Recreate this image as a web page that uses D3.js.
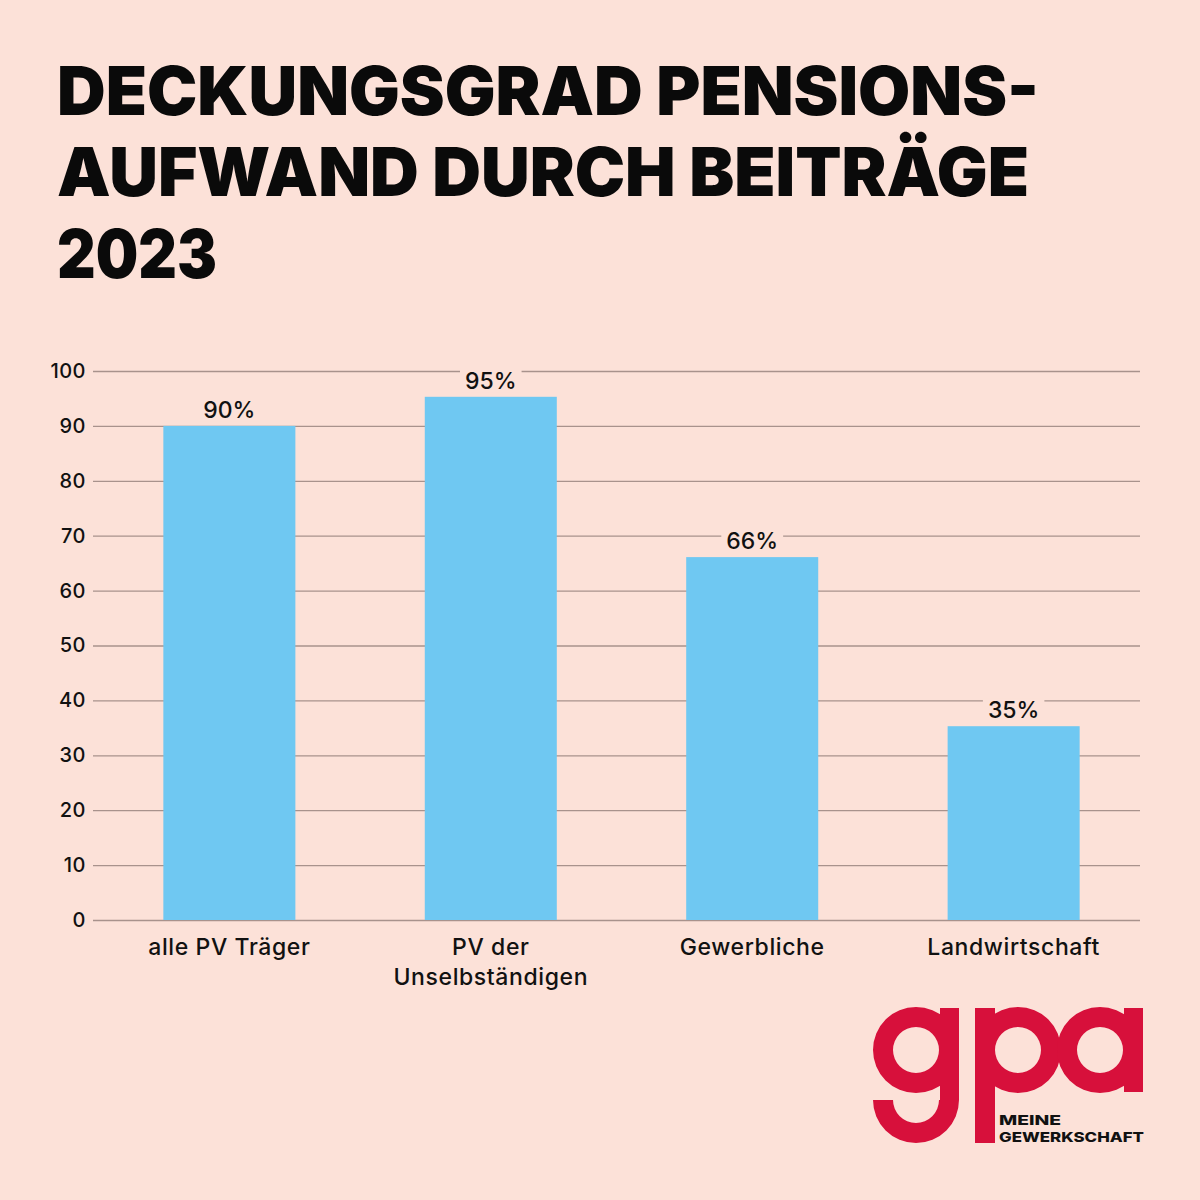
<!DOCTYPE html>
<html><head><meta charset="utf-8">
<script src="https://cdn.jsdelivr.net/npm/d3@7"></script>
<style>
html,body{margin:0;padding:0;background:#fce1d8;}
svg{display:block;}
</style></head>
<body>
<svg id="c" width="1200" height="1200"></svg>
<script>
const titleLines = ["DECKUNGSGRAD PENSIONS-", "AUFWAND DURCH BEITRÄGE", "2023"];
const categories = [["alle PV Träger"], ["PV der", "Unselbständigen"], ["Gewerbliche"], ["Landwirtschaft"]];
const values = [90, 95.3, 66.1, 35.3];
const valueLabels = ["90%", "95%", "66%", "35%"];
const yTicks = [0,10,20,30,40,50,60,70,80,90,100];

const BG = "#fce1d8", BAR = "#6fc8f2", GRID = "#a8928c", RED = "#d7103b";
const svg = d3.select("#c");
svg.append("rect").attr("width",1200).attr("height",1200).attr("fill",BG);

// Title
const tg = svg.append("g");
const titleBase = [115, 196, 278];
const titleWidths = [982, 972, 160];
titleLines.forEach((t,i)=>{
  const el = tg.append("text").attr("x",57).attr("y",titleBase[i])
    .attr("font-family","Inter, 'DejaVu Sans', sans-serif").attr("font-weight",900)
    .attr("font-size",68).attr("fill","#0a0a0a").text(t);
  el.attr("textLength", titleWidths[i]).attr("lengthAdjust","spacingAndGlyphs");
});

const y = d3.scaleLinear().domain([0,100]).range([920,371]);
const x = d3.scaleBand().domain(d3.range(categories.length)).range([98,1145]).paddingInner(0.495).paddingOuter(0.25);

// gridlines
const yAxis = d3.axisLeft(y).tickValues(yTicks).tickSize(-(1140-93)).tickPadding(7);
const ga = svg.append("g").attr("transform","translate(93,0)").call(yAxis);
ga.select(".domain").remove();
ga.selectAll(".tick line").attr("stroke",GRID).attr("stroke-width",1.3);
ga.selectAll(".tick text").attr("font-family","Inter, sans-serif").attr("font-weight",500)
  .attr("font-size",20).attr("letter-spacing",0.5).attr("fill","#111");

// bars
svg.append("g").selectAll("rect").data(values).join("rect")
  .attr("x",(d,i)=>x(i)).attr("width",x.bandwidth())
  .attr("y",d=>y(d)).attr("height",d=>y(0)-y(d)).attr("fill",BAR);

// value labels with background knockouts
const vl = svg.append("g");
values.forEach((v,i)=>{
  const cx = x(i)+x.bandwidth()/2;
  const t = vl.append("text").attr("x",cx).attr("y",y(v)-8).attr("text-anchor","middle")
    .attr("font-family","Inter, sans-serif").attr("font-weight",500).attr("font-size",23)
    .attr("fill","#111").text(valueLabels[i]);
  const bb = t.node().getBBox();
  vl.insert("rect","text").attr("x",bb.x-5).attr("y",bb.y+2).attr("width",bb.width+10).attr("height",bb.height-4).attr("fill",BG);
});
vl.selectAll("rect").lower();
vl.raise();

// category labels
const cl = svg.append("g");
categories.forEach((lines,i)=>{
  const cx = x(i)+x.bandwidth()/2;
  lines.forEach((l,j)=>{
    cl.append("text").attr("x",cx).attr("y",955+j*30).attr("text-anchor","middle")
      .attr("font-family","Inter, sans-serif").attr("font-weight",500).attr("font-size",23)
      .attr("letter-spacing",0.6).attr("fill","#111").text(l);
  });
});

// logo
const lg = svg.append("g").attr("fill",RED);
const ring = d3.arc().innerRadius(23).outerRadius(43).startAngle(0).endAngle(2*Math.PI);
// g
lg.append("path").attr("d",ring()).attr("transform","translate(916,1050)");
lg.append("rect").attr("x",940).attr("y",1008).attr("width",19).attr("height",92);
lg.append("path").attr("d",d3.arc().innerRadius(23).outerRadius(43).startAngle(Math.PI/2).endAngle(3*Math.PI/2)()).attr("transform","translate(916,1100)");
// p
lg.append("path").attr("d",ring()).attr("transform","translate(1018,1050)");
lg.append("rect").attr("x",975).attr("y",1008).attr("width",20).attr("height",135);
// a
lg.append("path").attr("d",ring()).attr("transform","translate(1100,1050)");
lg.append("rect").attr("x",1124).attr("y",1008).attr("width",19).attr("height",84);

const lt = svg.append("g").attr("font-family","Inter, sans-serif").attr("font-weight",800).attr("font-size",13.5).attr("fill","#111");
lt.append("text").attr("x",999).attr("y",1125).attr("textLength",62).attr("lengthAdjust","spacingAndGlyphs").text("MEINE");
lt.append("text").attr("x",999).attr("y",1142).attr("textLength",145).attr("lengthAdjust","spacingAndGlyphs").text("GEWERKSCHAFT");
</script>
</body></html>
